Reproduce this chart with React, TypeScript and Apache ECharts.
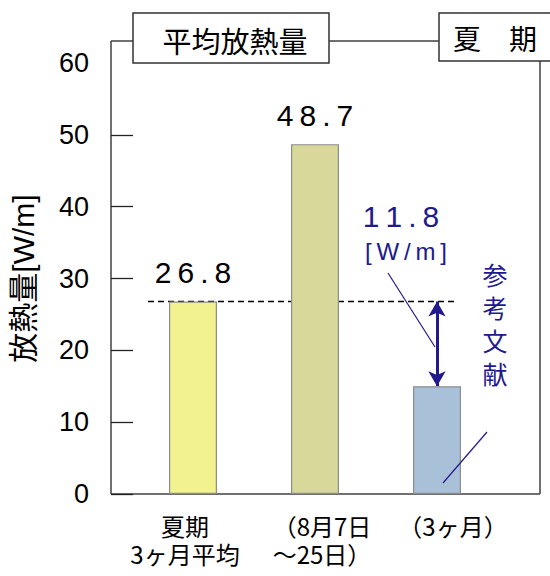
import React, { useEffect, useRef } from 'react';
import * as echarts from 'echarts';

// ---- data ----
const categories: string[] = ['夏期\n3ヶ月平均', '（8月7日\n～25日）', '（3ヶ月）'];
const heatValues: number[] = [26.8, 48.7, 15.0];
const showValueLabel: boolean[] = [true, true, false];
const barColors: string[] = ['#F2F28E', '#D8D89A', '#A9C1D8'];
const yTickValues: number[] = [0, 10, 20, 30, 40, 50];
const yMin = 0;
const yMax = 60;
const yInterval = 10;
const titleText = '平均放熱量';
const seasonText = '夏　期';
const yAxisName = '放熱量[W/m]';
const unitText = '[W/m]';
const refText = '参考文献';

// label nudges (layout only): [top, right, bottom, left] padding per category label
const labelPadding: number[][] = [
  [0, 16, 0, 0],
  [0, 0, 0, 14],
  [0, 0, 0, 32],
];

const NAVY = '#211A8C';
const FRAME = '#404040';
const LATIN = '"Liberation Sans", Arial, "Noto Sans CJK JP", sans-serif';
const CJK = '"Noto Sans CJK JP", "Liberation Sans", sans-serif';

const spaced = (s: string) => s.split('').join('\u2009');

export default function App() {
  const ref = useRef<HTMLDivElement>(null);

  useEffect(() => {
    document.body.style.margin = '0';
    const chart = echarts.init(ref.current as HTMLDivElement, null, { renderer: 'svg' });

    const refLevel = heatValues[0];
    const diff = (heatValues[0] - heatValues[2]).toFixed(1);

    const option: any = {
      animation: false,
      backgroundColor: '#ffffff',
      grid: {
        left: 132,
        right: 52,
        top: 63,
        bottom: 82,
        containLabel: false,
        outerBoundsMode: 'none',
      },
      xAxis: {
        type: 'category',
        data: categories.map((c, i) => ({
          value: c,
          textStyle: { padding: labelPadding[i] },
        })),
        axisLine: { show: false },
        axisTick: { show: false },
        axisLabel: {
          interval: 0,
          margin: 17,
          fontSize: 24,
          lineHeight: 28,
          color: '#000',
          fontFamily: CJK,
        },
      },
      yAxis: {
        type: 'value',
        min: yMin,
        max: yMax,
        interval: yInterval,
        offset: 21,
        name: yAxisName,
        nameLocation: 'middle',
        nameGap: 73,
        nameRotate: 90,
        nameTextStyle: { fontSize: 30, color: '#000', fontFamily: LATIN },
        axisLine: { show: false },
        axisTick: {
          show: true,
          inside: true,
          length: 22,
          customValues: yTickValues,
          lineStyle: { color: '#222', width: 1.3 },
        },
        axisLabel: {
          margin: 22,
          fontSize: 27,
          color: '#000',
          fontFamily: LATIN,
        },
        splitLine: { show: false },
      },
      series: [
        {
          type: 'bar',
          barWidth: 48,
          z: 2,
          data: heatValues.map((v, i) => ({
            value: v,
            itemStyle: {
              color: barColors[i],
              borderColor: '#8C8C8C',
              borderWidth: 1.2,
            },
            label: {
              show: showValueLabel[i],
              position: 'top',
              distance: 14,
              fontSize: 30,
              color: '#000',
              fontFamily: LATIN,
              formatter: () => spaced(v.toFixed(1)),
            },
          })),
          markLine: {
            z: 1,
            silent: true,
            label: { show: false },
            data: [
              [
                { coord: [0, refLevel], x: 148, symbol: 'none', lineStyle: { color: '#000', width: 1.3, type: [6, 4] } },
                { coord: [2, refLevel], x: 458, symbol: 'none' },
              ],
              [
                { coord: [2, refLevel], symbol: 'arrow', symbolSize: [13, 15], lineStyle: { color: NAVY, width: 3, type: 'solid' } },
                { coord: [2, heatValues[2]], symbol: 'arrow', symbolSize: [13, 15] },
              ],
            ],
          },
        },
      ],
      graphic: [
        // frame
        { type: 'line', z: 0, shape: { x1: 111, y1: 41, x2: 111, y2: 494 }, style: { stroke: FRAME, lineWidth: 1.5 } },
        { type: 'line', z: 0, shape: { x1: 111, y1: 494, x2: 540, y2: 494 }, style: { stroke: FRAME, lineWidth: 1.5 } },
        { type: 'line', z: 0, shape: { x1: 540, y1: 61, x2: 540, y2: 494 }, style: { stroke: FRAME, lineWidth: 1.5 } },
        { type: 'line', z: 0, shape: { x1: 111, y1: 41, x2: 133, y2: 41 }, style: { stroke: FRAME, lineWidth: 1.5 } },
        { type: 'line', z: 0, shape: { x1: 329, y1: 41, x2: 439, y2: 41 }, style: { stroke: FRAME, lineWidth: 1.5 } },
        // title boxes
        { type: 'rect', z: 10, shape: { x: 133, y: 13, width: 196, height: 50 }, style: { fill: '#fff', stroke: '#333', lineWidth: 1.5 } },
        { type: 'rect', z: 10, shape: { x: 439, y: 13, width: 130, height: 48 }, style: { fill: '#fff', stroke: '#333', lineWidth: 1.5 } },
        {
          type: 'text', z: 11, x: 235, y: 40,
          style: { text: titleText, fontSize: 29, fill: '#000', fontFamily: CJK, align: 'center', verticalAlign: 'middle' },
        },
        {
          type: 'text', z: 11, x: 495, y: 38,
          style: { text: seasonText, fontSize: 28, fill: '#000', fontFamily: CJK, align: 'center', verticalAlign: 'middle' },
        },
        // difference annotation
        {
          type: 'text', z: 11, x: 401, y: 216,
          style: { text: spaced(diff), fontSize: 30, fill: NAVY, fontFamily: LATIN, align: 'center', verticalAlign: 'middle' },
        },
        {
          type: 'text', z: 11, x: 406, y: 251,
          style: { text: spaced(unitText), fontSize: 24, fill: NAVY, fontFamily: LATIN, align: 'center', verticalAlign: 'middle' },
        },
        { type: 'line', z: 11, shape: { x1: 388, y1: 273, x2: 435, y2: 347 }, style: { stroke: NAVY, lineWidth: 1.2 } },
        {
          type: 'text', z: 11, x: 495, y: 323,
          style: { text: refText.split('').join('\n'), fontSize: 25, lineHeight: 33, fill: NAVY, fontFamily: CJK, align: 'center', verticalAlign: 'middle' },
        },
        { type: 'line', z: 11, shape: { x1: 487, y1: 432, x2: 443, y2: 483 }, style: { stroke: NAVY, lineWidth: 1.2 } },
      ],
    };

    chart.setOption(option);
    return () => {
      chart.dispose();
    };
  }, []);

  return <div ref={ref} style={{ width: 550, height: 576 }} />;
}
